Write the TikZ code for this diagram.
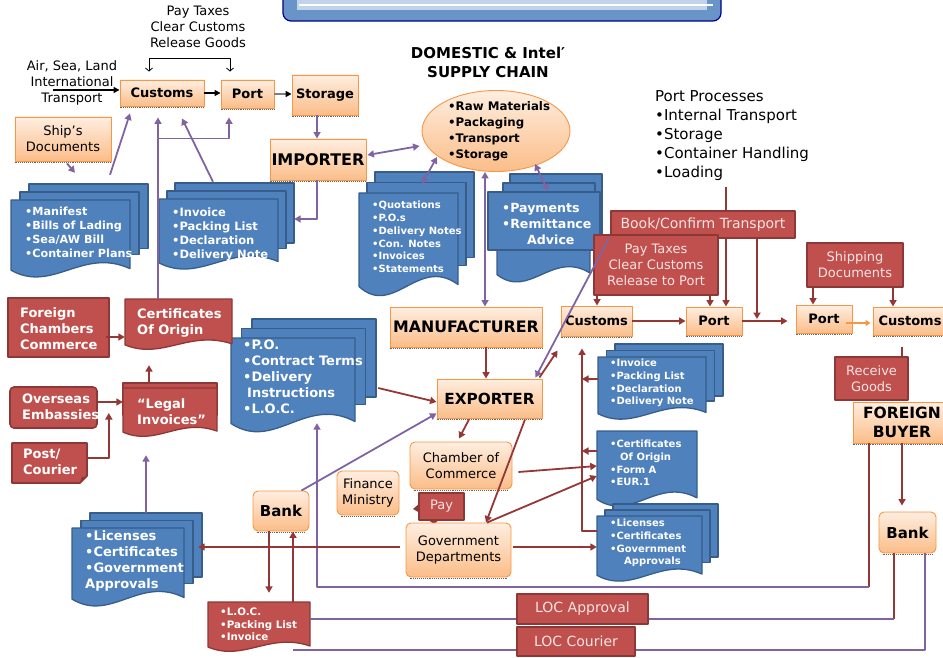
\documentclass[tikz,border=0pt]{standalone}
\usepackage{fontspec}
\setmainfont{DejaVu Sans}
\usetikzlibrary{arrows.meta,shapes.geometric,calc}
\definecolor{orbd}{HTML}{F79646}
\definecolor{ortop}{HTML}{FEEEE0}
\definecolor{orbot}{HTML}{FBBD88}
\definecolor{redf}{HTML}{C0504D}
\definecolor{redd}{HTML}{8C3836}
\definecolor{bluef}{HTML}{4F81BD}
\definecolor{blued}{HTML}{385D8A}
\definecolor{purp}{HTML}{8064A2}
\definecolor{redl}{HTML}{953735}
\definecolor{rtxt}{HTML}{F6E4E3}
\newcommand{\wavedoc}[5]{%
  \path[#1] (#2,#3) -- (#4,#3) -- (#4,{#5-0.12*(#5-#3)})
    .. controls ({#2+0.6*(#4-#2)},{#5-0.4*(#5-#3)}) and ({#2+0.35*(#4-#2)},{#5+0.2*(#5-#3)})
    .. (#2,{#5-0.1*(#5-#3)}) -- cycle;}
\newcommand{\multidoc}[7]{%
  \path[#1] ({#2+2*#6},{#3-2*#7}) rectangle ({#4+2*#6},{#5-0.38*(#5-#3)});
  \path[#1] ({#2+#6},{#3-#7}) rectangle ({#4+#6},{#5-0.3*(#5-#3)});
  \wavedoc{#1}{#2}{#3}{#4}{#5}}
\tikzset{
  obox/.style={rectangle, draw=orbd, line width=0.9pt, top color=ortop, bottom color=orbot, inner sep=0pt, text=black, align=center},
  orbox/.style={obox, rounded corners=5pt},
  rbox/.style={rectangle, draw=redd, line width=1.6pt, fill=redf, inner sep=0pt, text=rtxt, align=center},
  bdoc/.style={draw=blued, line width=1.3pt, fill=bluef},
  rdoc/.style={draw=redd, line width=1.3pt, fill=redf},
  area/.style={inner sep=0pt, draw=none},
  pl/.style={draw=purp, line width=1.8pt},
  rl/.style={draw=redl, line width=1.8pt},
  tip/.style={-{Triangle[length=6.5pt,width=7pt]}},
  dtip/.style={{Triangle[length=6.5pt,width=7pt]}-{Triangle[length=6.5pt,width=7pt]}},
  wt/.style={text=white, inner sep=0pt, align=left, anchor=west},
  shadowline/.style={densely dotted, draw=black!60, line width=0.9pt},
  fbA/.style={font=\bfseries\fontsize{10}{12.7}\selectfont},
  fbS/.style={font=\bfseries\fontsize{11.2}{14}\selectfont},
  fbB/.style={font=\bfseries\fontsize{13}{16}\selectfont},
  fbH/.style={font=\bfseries\fontsize{15.8}{19}\selectfont},
  fnB/.style={font=\fontsize{13}{16}\selectfont},
  fnC/.style={font=\fontsize{14}{17}\selectfont},
  fnD/.style={font=\fontsize{15}{19}\selectfont},
}
\begin{document}
\begin{tikzpicture}[x=1pt,y=-1pt,line join=round]
\useasboundingbox (0,0) rectangle (943,658);
\clip (0,0) rectangle (943,658);
% banner
\draw[draw=blue!55!black, line width=1.2pt, fill=bluef!85, rounded corners=8pt] (283,-20) rectangle (721,21);
\fill[bluef!35] (297,-20) rectangle (707,10);
\draw[white, line width=1.3pt] (299,5) -- (713,5);

% ---- plain texts
\node[fnB, align=center, inner sep=0pt] (paytop) at (198,27) {Pay Taxes\\Clear Customs\\Release Goods};
\node[fnB, align=center, inner sep=0pt] (airsea) at (72,83) {Air, Sea, Land\\International\\Transport};
\node[font=\bfseries\fontsize{15}{19}\selectfont, align=center, inner sep=0pt] (title) at (488,62.5) {DOMESTIC \& Intel′\\SUPPLY CHAIN};
\node[fnD, align=left, anchor=west, inner sep=0pt] (portproc) at (655,136) {Port Processes\\•Internal Transport\\•Storage\\•Container Handling\\•Loading};

% ---- blue documents
\multidoc{bdoc}{11}{200}{130}{278}{9}{8}
\node[area, minimum width=137pt, minimum height=94pt] (man) at (79.5,231) {};
\node[wt, fbS] (manT) at (25,232) {•Manifest\\•Bills of Lading\\•Sea/AW Bill\\•Container Plans};

\multidoc{bdoc}{159}{199}{278}{270}{8}{8}
\node[area, minimum width=135pt, minimum height=87pt] (invL) at (226.5,226.5) {};
\node[wt, font=\bfseries\fontsize{11.5}{14}\selectfont] (invLT) at (172,234) {•Invoice\\•Packing List\\•Declaration\\•Delivery Note};

\multidoc{bdoc}{359}{193}{458}{297}{8}{10.5}
\node[area, minimum width=115pt, minimum height=125pt] (quot) at (416.5,234.5) {};
\node[wt, font=\bfseries\fontsize{10}{12.8}\selectfont] (quotT) at (372,237) {•Quotations\\•P.O.s\\•Delivery Notes\\•Con. Notes\\•Invoices\\•Statements};

\path[bdoc] (510,174) rectangle (602,245);
\path[bdoc] (503,183) rectangle (595,250);
\wavedoc{bdoc}{497}{200}{590}{283}
\path[bdoc] (488,192) rectangle (600,250);
\node[area, minimum width=114pt, minimum height=108pt] (paym) at (545,228) {};
\node[wt, font=\bfseries\fontsize{12.6}{16}\selectfont] (paymT) at (502,224) {•Payments\\•Remittance\\\hspace*{25pt}Advice};

\multidoc{bdoc}{231}{338}{355}{433}{10.5}{9.5}
\node[area, minimum width=145pt, minimum height=114pt] (PO) at (303.5,376) {};
\node[wt, fbB] (POT) at (243,377) {•P.O.\\•Contract Terms\\•Delivery\\\hspace*{4pt}Instructions\\•L.O.C.};

\multidoc{bdoc}{72}{528}{184}{607}{9}{7.5}
\node[area, minimum width=130pt, minimum height=94pt] (licL) at (137,560) {};
\node[wt, fbB] (licLT) at (85,561) {•Licenses\\•Certificates\\•Government\\Approvals};

\multidoc{bdoc}{598}{357}{706}{420}{8.5}{6.5}
\node[area, minimum width=125pt, minimum height=76pt] (invR) at (660.5,382) {};
\node[wt, fbA] (invRT) at (610,383) {•Invoice\\•Packing List\\•Declaration\\•Delivery Note};

\wavedoc{bdoc}{597}{431}{697}{507}
\node[area, minimum width=100pt, minimum height=76pt] (certR) at (647,469) {};
\node[wt, fbA] (certRT) at (610,463) {•Certificates\\\hspace*{10pt}Of Origin\\•Form A\\•EUR.1};

\multidoc{bdoc}{597}{516}{702}{582}{8}{6}
\node[area, minimum width=121pt, minimum height=78pt] (licR) at (657.5,543) {};
\node[wt, fbA] (licRT) at (610,543) {•Licenses\\•Certificates\\•Government\\\hspace*{14pt}Approvals};

% ---- red documents
\wavedoc{rdoc}{125}{299}{232}{350}
\node[area, minimum width=107pt, minimum height=51pt] (cert) at (178.5,324.5) {};
\node[wt, fbB] (certT) at (137,323) {Certificates\\Of Origin};

\path[rdoc] (123,383) rectangle (217,415);
\wavedoc{rdoc}{123}{388}{217}{437}
\node[area, minimum width=94pt, minimum height=54pt] (legal) at (170,410) {};
\node[wt, fbB] (legalT) at (137,412) {“Legal\\Invoices”};

\wavedoc{rdoc}{208}{602}{310}{652}
\node[area, minimum width=102pt, minimum height=50pt] (locdoc) at (259,627) {};
\node[wt, font=\bfseries\fontsize{10.3}{12.5}\selectfont] (locdocT) at (220,624.5) {•L.O.C.\\•Packing List\\•Invoice};

% ---- red boxes
\node[rbox, minimum width=101pt, minimum height=59pt] (forch) at (58.5,327.5) {};
\node[wt, fbB] (forchT) at (20,329) {Foreign\\Chambers\\Commerce};
\node[rbox, rounded corners=4pt, minimum width=87pt, minimum height=41pt] (overseas) at (53.5,407.5) {};
\node[wt, fbB] (overseasT) at (22,407) {Overseas\\Embassies};
\path[rdoc, line width=1.6pt] (12,443) -- (87,443) -- (87,476) -- (80,483) -- (12,483) -- cycle;
\path[fill=redd] (80,483) -- (81.5,477.5) -- (87,476) -- cycle;
\node[area, minimum width=75pt, minimum height=40pt] (post) at (49.5,463) {};
\node[wt, fbB] (postT) at (23,462) {Post/\\Courier};

\node[rbox, fnC, minimum width=184pt, minimum height=27pt] (book) at (703,224.5) {Book/Confirm Transport};
\node[rbox, fnB, minimum width=124pt, minimum height=60pt] (paytax) at (656,265) {Pay Taxes\\Clear Customs\\Release to Port};
\node[rbox, fnB, minimum width=96pt, minimum height=44pt] (shipdoc) at (855,265) {Shipping\\Documents};
\node[rbox, fnB, minimum width=73pt, minimum height=43pt] (receive) at (871.5,378.5) {Receive\\Goods};
\node[rbox, fnC, minimum width=131pt, minimum height=30pt] (locapp) at (582.5,609) {LOC Approval};
\node[rbox, fnC, minimum width=118pt, minimum height=29pt] (loccour) at (576,641.5) {LOC Courier};
\path[fill=redd] (420,503) -- (413,509) -- (420,513) -- cycle;
\path[fill=redd] (427,519) -- (434,524) -- (440,519) -- cycle;
\node[rbox, fnB, minimum width=45pt, minimum height=27pt] (pay) at (441.5,506.5) {Pay};

% ---- orange boxes
\node[obox, fbB, minimum width=84pt, minimum height=26pt] (custA) at (162,93) {Customs};
\node[obox, fbB, minimum width=53pt, minimum height=28pt] (portA) at (247.5,94) {Port};
\node[obox, fbB, minimum width=66pt, minimum height=40pt] (storA) at (325,95) {Storage};
\node[obox, font=\bfseries\fontsize{16}{19}\selectfont, minimum width=96pt, minimum height=41pt] (imp) at (318,159.5) {IMPORTER};
\node[obox, fnB, minimum width=96pt, minimum height=44pt] (ships) at (63,139) {Ship’s\\Documents};
\node[ellipse, draw=orbd, line width=0.9pt, top color=ortop, bottom color=orbot, minimum width=148pt, minimum height=81pt, inner sep=0pt] (ell) at (496,131) {};
\node[anchor=west, align=left, inner sep=0pt, font=\bfseries\fontsize{11.8}{16}\selectfont] (ellT) at (448,131) {•Raw Materials\\•Packaging\\•Transport\\•Storage};
\node[obox, fbH, minimum width=152pt, minimum height=40pt] (manu) at (466,327) {MANUFACTURER};
\node[obox, font=\bfseries\fontsize{15.3}{19}\selectfont, minimum width=105pt, minimum height=39pt] (expo) at (489.5,398.5) {EXPORTER};
\node[obox, fbB, minimum width=71pt, minimum height=30pt] (custB) at (596.5,321) {Customs};
\node[obox, fbB, minimum width=56pt, minimum height=28pt] (portB) at (714,321) {Port};
\node[obox, fbB, minimum width=56pt, minimum height=28pt] (portC) at (824,319) {Port};
\node[obox, fbB, minimum width=74pt, minimum height=28pt] (custC) at (910,321) {Customs};
\node[obox, font=\bfseries\fontsize{15.5}{19}\selectfont, minimum width=98pt, minimum height=41pt] (buyer) at (902,422.5) {FOREIGN\\BUYER};
\node[orbox, font=\bfseries\fontsize{15}{18}\selectfont, minimum width=57pt, minimum height=41pt] (bankR) at (907.5,532.5) {Bank};
\node[orbox, font=\bfseries\fontsize{15}{18}\selectfont, minimum width=56pt, minimum height=40pt] (bankL) at (281,511) {Bank};
\node[orbox, fnB, minimum width=102pt, minimum height=47pt] (chamber) at (461,465.5) {Chamber of\\Commerce};
\node[orbox, fnB, minimum width=62pt, minimum height=44pt] (finance) at (368,493) {Finance\\Ministry};
\node[orbox, fnB, minimum width=105pt, minimum height=54pt] (govt) at (458.5,550) {Government\\Departments};
\foreach \b in {custA,portA,storA,imp,ships,manu,expo,custB,portB,portC,custC,buyer}
  \draw[shadowline] ([yshift=-1.3pt]\b.south west) -- ([yshift=-1.3pt]\b.south east);
\foreach \b in {bankR,bankL,chamber,finance,govt}
  \draw[shadowline] ([yshift=-1.3pt,xshift=4pt]\b.south west) -- ([yshift=-1.3pt,xshift=-4pt]\b.south east);

% ---- black connectors
\draw[line width=0.8pt, {Straight Barb[length=3pt,width=7pt]}-{Straight Barb[length=3pt,width=7pt]}]
  ($(custA.north)+(-13,-8)$) -- ++(0,-13) -| ($(portA.north)+(-17.5,-8)$);
\draw[line width=1.6pt, -{Triangle[length=6pt,width=6pt]}] ($(53,0 |- custA.west)+(0,-3)$) -- ($(custA.west)+(0,-3)$);
\draw[line width=1.6pt, -{Triangle[length=6pt,width=6pt]}] (custA.east) -- (custA.east -| portA.west);
\draw[line width=1.6pt, draw=gray, -{Triangle[length=6pt,width=6pt,color=black]}] (portA.east) -- (portA.east -| storA.west);

% ---- purple connectors
\draw[pl,tip] (317,0 |- storA.south) -- (317,0 |- imp.north);
\draw[pl,tip] (317,0 |- imp.south) |- (invL.east |- 0,219);
\draw[pl,tip] ($(ships.south)+(4,2)$) -- ($(man.north)+(-4.5,-11)$);
\draw[pl,tip] ($(man.north)+(30.5,-9)$) -- ($(custA.south)+(-32,7)$);
\draw[pl,tip] ($(invL.north)+(-13.5,-1)$) -- ($(custA.south)+(20,12)$);
\draw[pl,tip] (158,0 |- cert.north) -- ($(custA.south)+(-4,11)$);
\draw[pl,tip] (158,0 |- imp.north) -| ($(portA.south)+(-18.5,9)$);
\draw[pl,dtip] ($(imp.east)+(1,-4.5)$) -- ($(ell.west)+(-2,15)$);
\draw[pl,dtip] ($(ell.center)+(-59,26)$) -- ($(quot.north)+(5.5,12)$);
\draw[pl,dtip] ($(ell.center)+(39,33)$) -- ($(paym.north)+(3,17)$);
\draw[pl,dtip] (485,0 |- ell.south) -- (485,0 |- manu.north);
\draw[pl,tip] ($(book.south west)+(-1,-1)$) -- ($(expo.north east)+(-7,-1)$);
\draw[pl,tip] ($(bankL.north east)+(-8,0)$) -- ($(expo.south west)+(0,-5)$);
\draw[pl,tip] (146,0 |- licL.north) -- ($(legal.south)+(-24,18)$);
\draw[rl] (869,0 |- buyer.south) -- (869,587);
\draw[pl,tip] (869,587) -| ($(PO.south)+(13.5,-10)$);
\draw[rl] (894,0 |- bankR.south) -- (894,619);
\draw[pl] (894,619) -- (locapp.east |- 0,619);
\draw[pl] (925,0 |- bankR.south) |- (loccour.east |- 0,650);
\draw[pl] (locapp.west |- 0,619) -- (locdoc.east |- 0,619);
\draw[pl] (loccour.west |- 0,650) -- (293,650);

% ---- red connectors
\draw[rl] ($(726,0 |- portproc.south)+(0,6)$) -- (726,0 |- book.north);
\draw[rl,tip] (726,0 |- book.south) -- (726,0 |- portB.north);
\draw[rl,tip] (597,0 |- paytax.south) -- (597,0 |- custB.north);
\draw[rl,tip] (710,0 |- paytax.south) -- (710,0 |- portB.north);
\draw[rl,tip] (757,0 |- book.south) -- (757,319);
\draw[rl,tip] (custB.east) -- (custB.east -| portB.west);
\draw[rl,tip] (portB.east) -- ($(portB.east -| portC.west)+(-8,0)$);
\draw[orbd, line width=1.5pt, -{Triangle[length=5pt,width=6pt]}] ($(portC.east)+(-6,4)$) -- ($(custC.west)+(-2,2)$);
\draw[rl,tip] (813,0 |- shipdoc.south) -- (813,0 |- portC.north);
\draw[rl,tip] (893,0 |- shipdoc.south) -- (893,0 |- custC.north);
\draw[rl] ($(902,0 |- custC.south)+(0,12)$) -- (902,0 |- receive.north);
\draw[rl,tip,shorten >=6pt] (902,0 |- buyer.south) -- (902,0 |- bankR.north);
\draw[rl,tip] ($(forch.east)+(-4,9.5)$) -- (cert.west |- 0,337);
\draw[rl,tip,shorten >=15pt] (149,0 |- legal.north) -- (149,0 |- cert.south);
\draw[rl,tip] (overseas.east |- 0,402) -- (legal.west |- 0,402);
\draw[rl,tip] (post.east |- 0,458) -| ($(legal.west)+(-14,3)$);
\draw[rl,tip] ($(PO.east |- 0,388)+(2,0)$) -- ($(expo.west)+(0,3.5)$);
\draw[rl,tip] (486,0 |- manu.south) -- (486,0 |- expo.north);
\draw[rl,tip] ($(expo.north east)+(-3,-1)$) -- ($(custB.south west)+(-3,14)$);
\draw[rl,tip] (invR.west |- 0,379) -- (582,379);
\draw[rl,tip] (certR.west |- 0,451) -- (582,451);
\draw[rl,tip] (licR.west |- 0,531) -| ($(custB.south)+(-14.5,12)$);
\draw[rl,tip] ($(expo.south)+(-20.5,1)$) -- ($(chamber.north)+(-2,-3)$);
\draw[rl,tip] ($(expo.south)+(35.5,1)$) -- ($(govt.north)+(27.5,0)$);
\draw[rl,tip] ($(chamber.east)+(6,6.5)$) -- (certR.west |- 0,466);
\draw[rl,tip] ($(govt.north)+(28.5,0)$) -- (certR.west |- 0,476);
\draw[rl,tip] ($(govt.east)+(2,-3)$) -- (licR.west |- 0,547);
\draw[rl,tip,shorten >=-4pt] ($(govt.west)+(-6,-3)$) -- (licL.east |- 0,547);
\draw[rl,tip,shorten >=9pt] (269,0 |- bankL.south) -- (269,0 |- locdoc.north);
\draw[rl,tip] (293,0 |- locdoc.north) -- (293,0 |- bankL.south);
\end{tikzpicture}
\end{document}
